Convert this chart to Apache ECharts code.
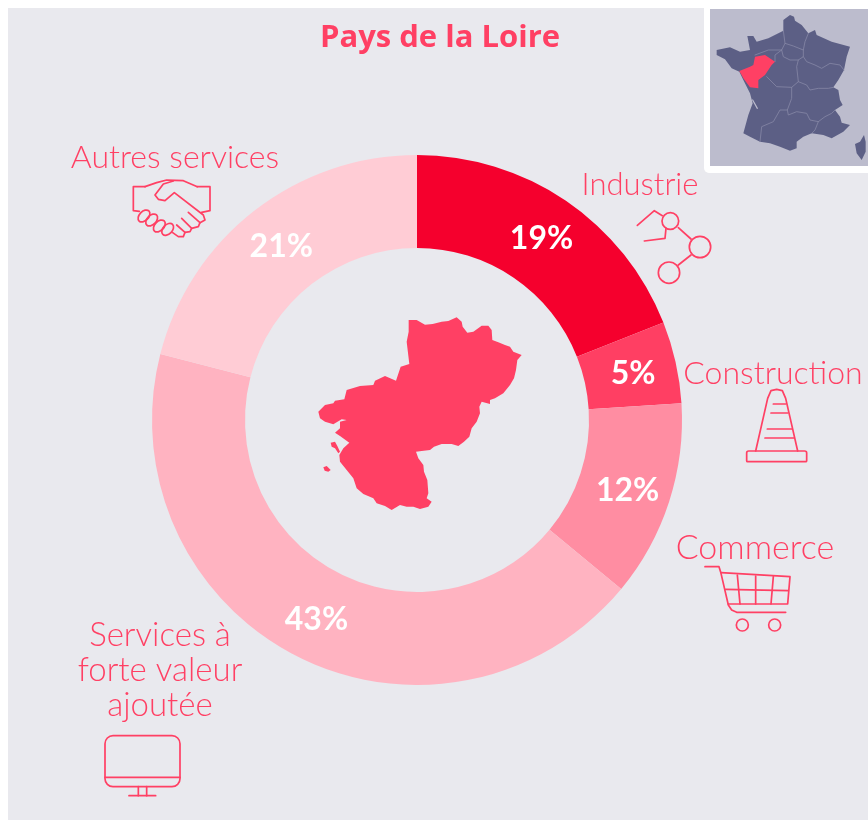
<!DOCTYPE html>
<html><head><meta charset="utf-8">
<style>html,body{margin:0;padding:0;background:#fff}#c{width:868px;height:820px}</style>
<script src="https://cdn.jsdelivr.net/npm/echarts@6/dist/echarts.min.js"></script>
</head><body><div id="c"></div>
<script>
const titleText = 'Pays de la Loire';
const categories = ['Industrie','Construction','Commerce','Services à forte valeur ajoutée','Autres services'];
const shares = [19,5,12,43,21];
const sliceColors = ['#f5002d','#ff3f63','#ff8da2','#ffb3c1','#ffccd5'];
const PINK='#ff4064', FONT='"Lato","Open Sans",sans-serif';
const chart = echarts.init(document.getElementById('c'),null,{renderer:'canvas'});
const g=[];
const LW=1.7;
function pts(o,p){return p.map(a=>[o[0]+a[0]/3,o[1]+a[1]/3]);}
function line(o,p,w,c,z){g.push({type:'polyline',z:z||7,shape:{points:pts(o,p)},style:{stroke:c||PINK,lineWidth:w||LW,fill:null,lineJoin:'round',lineCap:'round'},silent:true});}
function circ(o,x,y,r,w){g.push({type:'circle',z:7,shape:{cx:o[0]+x/3,cy:o[1]+y/3,r:r/3},style:{stroke:PINK,lineWidth:w||LW,fill:null},silent:true});}
function poly(o,p,fill,z){g.push({type:'polygon',z:z||7,shape:{points:pts(o,p)},style:{fill:fill},silent:true});}
function rrect(x,y,w,h,r,st,z){g.push({type:'rect',z:z||7,shape:{x,y,width:w,height:h,r},style:st,silent:true});}
function text(t,x,y,size,weight,fam){g.push({type:'text',z:8,x,y,style:{text:t,fill:PINK,font:(weight||300)+' '+size+'px '+(fam||FONT),textAlign:'center',textVerticalAlign:'middle'},silent:true});}

// backgrounds
rrect(8,8,860,812,0,{fill:'#e9e9ee'},1);
rrect(704,0,164,173,[0,0,0,5],{fill:'#ffffff'},2);
rrect(710,9,158,157,0,{fill:'#bcbccd'},3);

// inset map
const M=[700,0], FR='#5c5f85', BORDER='#8688a6';
poly(M,[[250,60],[270,45],[282,50],[285,62],[305,75],[325,100],[345,90],[350,105],[395,125],[450,140],[440,170],[432,210],[415,240],[400,262],[415,270],[420,300],[428,315],[405,330],[420,350],[425,368],[450,375],[430,395],[395,415],[370,405],[335,400],[310,410],[290,425],[290,445],[270,452],[240,440],[210,430],[180,425],[150,410],[130,400],[145,345],[158,310],[150,280],[130,240],[118,215],[95,205],[75,178],[50,165],[50,150],[90,142],[120,155],[150,150],[142,108],[160,108],[170,125],[205,115],[250,92]],FR,4);
poly(M,[[492,405],[497,425],[497,455],[485,480],[470,460],[465,432],[480,425]],FR,4);
[[[250,92],[255,130],[280,138],[310,150],[315,125],[325,100]],
 [[255,130],[245,150],[250,170],[270,180],[295,180],[310,170],[310,150]],
 [[310,170],[320,185],[345,195],[365,205],[390,190],[420,195],[432,210]],
 [[165,165],[205,150],[245,150]],
 [[245,150],[225,165],[225,185]],
 [[200,230],[230,260],[275,262],[295,245],[290,200],[295,180]],
 [[295,245],[320,255],[330,270],[355,265],[385,265],[400,262]],
 [[275,262],[275,295],[262,330],[240,330],[220,365],[185,380],[180,425]],
 [[262,330],[265,345],[290,335],[320,340],[330,360],[355,365],[345,390],[335,400]],
 [[355,365],[375,350],[395,340],[405,330]]
].forEach(p=>line(M,p,0.8,BORDER,5));
line(M,[[158,300],[172,325]],1.2,'#bcbccd',5);
poly(M,[[165,170],[195,165],[225,185],[215,195],[195,225],[175,240],[175,265],[150,262],[130,235],[118,213],[150,200],[160,195]],PINK,6);

// central region
const R=[310,310];
poly(R,[[296,30],[320,30],[345,44],[368,42],[395,35],[415,33],[440,22],[455,35],[458,50],[472,68],[490,65],[515,47],[535,47],[545,60],[547,90],[565,97],[585,105],[600,110],[610,125],[635,135],[622,150],[618,180],[612,205],[600,225],[580,250],[555,265],[540,270],[540,282],[515,275],[508,290],[510,310],[500,335],[485,355],[478,380],[462,395],[445,408],[425,402],[395,402],[372,410],[360,420],[335,423],[318,425],[325,445],[340,465],[342,485],[352,510],[355,550],[350,565],[365,575],[355,590],[330,597],[310,590],[290,590],[270,585],[245,600],[225,588],[200,580],[190,565],[160,552],[140,535],[130,505],[110,480],[90,455],[88,435],[100,415],[118,398],[90,378],[75,368],[90,355],[90,335],[110,330],[95,328],[70,343],[45,335],[30,325],[25,305],[45,285],[70,280],[75,272],[103,268],[110,240],[150,228],[190,225],[195,212],[225,198],[258,212],[272,170],[298,162],[290,95],[296,65]],PINK);
poly(R,[[62,398],[75,395],[82,408],[90,425],[85,430],[75,415],[65,410]],PINK);
poly(R,[[40,472],[50,468],[62,480],[55,485],[44,482]],PINK);

// handshake
const H=[120,170];
line(H,[[75,50],[40,50],[40,122],[58,124]]);
line(H,[[232,50],[270,50],[270,122],[245,127]]);
line(H,[[75,50],[110,38],[140,30],[165,31],[190,32],[232,50]]);
line(H,[[160,33],[130,42],[105,75],[115,88],[135,92],[163,68],[250,135],[255,150],[240,158],[205,127]]);
line(H,[[240,158],[235,170],[215,175],[185,145]]);
line(H,[[215,175],[210,185],[195,187],[170,165]]);
line(H,[[195,187],[190,200],[175,200],[158,188]]);
[[72,138],[95,150],[118,168],[143,178]].forEach(c=>g.push({type:'ellipse',z:7,x:H[0]+c[0]/3,y:H[1]+c[1]/3,rotation:0.8,shape:{cx:0,cy:0,rx:7,ry:4.6},style:{stroke:PINK,lineWidth:LW,fill:null},silent:true}));

// network
const N=[630,200];
circ(N,121,63,25);circ(N,210,141,32);circ(N,117,218,32);
line(N,[[145,83],[183,117]]);line(N,[[183,165],[145,195]]);
line(N,[[97,47],[73,32],[22,76]]);line(N,[[108,85],[105,115],[43,123]]);

// cone and cart
const C=[695,380];
line(C,[[182,213],[218,55],[228,32],[245,28],[262,32],[272,55],[308,213]]);
rrect(C[0]+155/3,C[1]+213/3,60,32/3,[2,2,1,1],{stroke:PINK,lineWidth:LW,fill:null});
line(C,[[235,72],[272,72]]);line(C,[[228,99],[278,99]]);line(C,[[217,147],[290,147]]);line(C,[[210,174],[297,174]]);
line(C,[[30,560],[72,560],[78,580],[100,675],[110,690],[125,697],[272,697]]);
line(C,[[78,578],[285,590],[278,672],[100,672]]);
line(C,[[92,628],[280,632]]);line(C,[[127,585],[135,672]]);line(C,[[182,588],[182,672]]);line(C,[[235,590],[228,672]]);
circ(C,142,735,18);circ(C,239,735,18);

// monitor
const S=[90,725];
rrect(S[0]+15,S[1]+32/3,75,51,8,{stroke:PINK,lineWidth:LW,fill:null});
line(S,[[45,157],[270,157]]);line(S,[[145,185],[145,212]]);line(S,[[170,185],[170,212]]);line(S,[[117,212],[197,212]]);

// texts
text(titleText,440,38,31,700,'"Open Sans",sans-serif');
text(categories[4],175,158,32);
text(categories[0],640,185,31);
text(categories[1],773,374,32);
text(categories[2],755,548,34);
text('Services à',160,635,33);
text('forte valeur',160,670,33);
text('ajoutée',160,705,33);

chart.setOption({
  animation:false,
  backgroundColor:'#ffffff',
  graphic:{elements:g},
  series:[{
    type:'pie',z:3,center:[417,420],radius:[172,265],startAngle:90,clockwise:true,
    avoidLabelOverlap:false,silent:true,
    label:{show:true,position:'inside',formatter:'{c}%',color:'#fff',fontFamily:FONT,fontWeight:700,fontSize:32},
    labelLine:{show:false},
    labelLayout:{dy:2},
    itemStyle:{borderWidth:0},
    data:categories.map((n,i)=>({name:n,value:shares[i],itemStyle:{color:sliceColors[i]}}))
  }]
});
</script></body></html>
